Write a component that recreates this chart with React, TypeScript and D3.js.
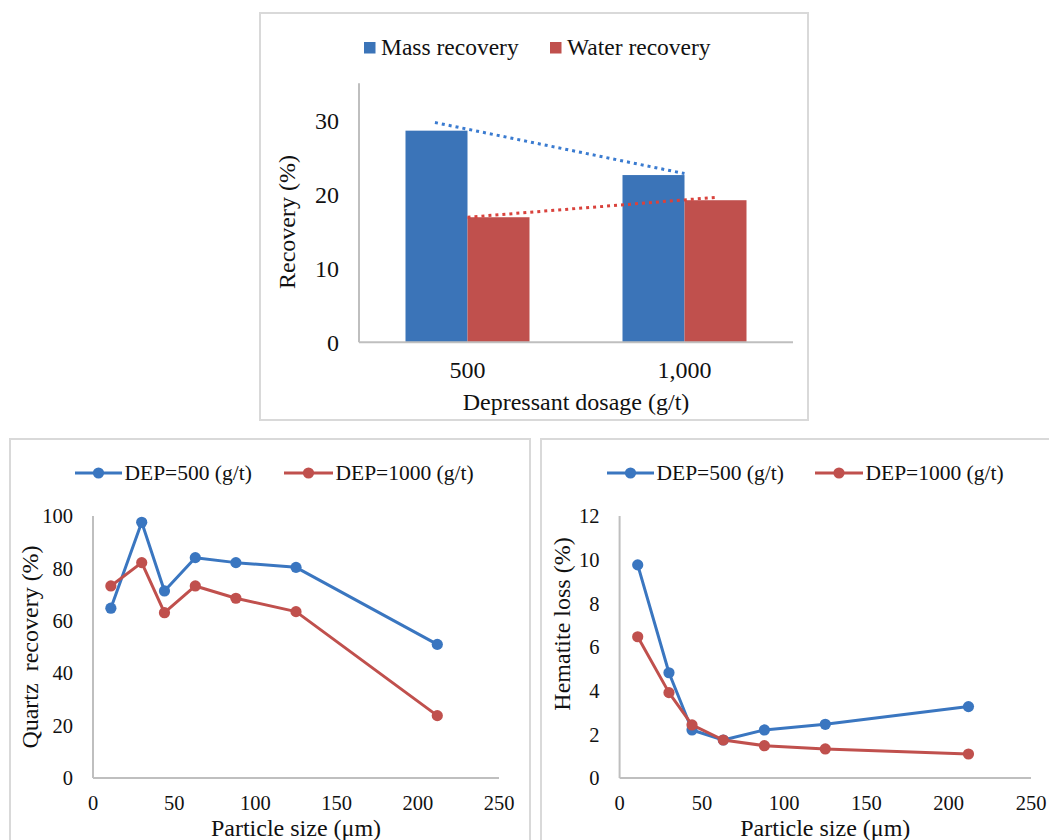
import { useEffect, useRef } from 'react'
import * as d3 from 'd3'

// top chart: recovery vs depressant dosage
const dosageLabels = ['500', '1,000']
const massRecovery = [28.6, 22.6]
const waterRecovery = [16.9, 19.2]
// dotted trend lines (x as category index, as Excel drew them)
const massTrendIdx = [-0.15, 1.0]
const massTrend = [29.7, 22.8]
const waterTrendIdx = [0, 1.15]
const waterTrend = [16.9, 19.6]
const recoveryTicks = [0, 10, 20, 30]

// bottom charts: particle size
const particleSize = [11, 30, 44, 63, 88, 125, 212]
const quartz500 = [64.8, 97.6, 71.4, 84.1, 82.2, 80.4, 51.0]
const quartz1000 = [73.3, 82.2, 63.1, 73.3, 68.6, 63.5, 23.8]
const hematite500 = [9.76, 4.82, 2.2, 1.74, 2.2, 2.46, 3.27]
const hematite1000 = [6.47, 3.91, 2.43, 1.74, 1.48, 1.33, 1.1]
const sizeTicks = [0, 50, 100, 150, 200, 250]
const quartzTicks = [0, 20, 40, 60, 80, 100]
const hematiteTicks = [0, 2, 4, 6, 8, 10, 12]

const BLUE = '#3b74b8'
const LINE_BLUE = '#3a76c0'
const RED = '#c0504d'
const AXIS = '#bfbfbf'
const BORDER = '#d9d9d9'
const TEXT = '#111'
const FONT = '"Liberation Serif", "Times New Roman", serif'

type Sel = d3.Selection<SVGSVGElement, unknown, null, undefined>

function drawLinePanel(svg: Sel, o: any) {
  const g = svg.append('g')

  g.append('rect')
    .attr('x', o.box[0]).attr('y', o.box[1])
    .attr('width', o.box[2]).attr('height', o.box[3])
    .attr('fill', '#fff').attr('stroke', BORDER).attr('stroke-width', 2)

  const x = d3.scaleLinear().domain([0, 250]).range(o.xRange)
  const y = d3.scaleLinear().domain([0, o.yMax]).range(o.yRange)

  // axis lines
  g.append('line')
    .attr('x1', x(0)).attr('x2', x(0))
    .attr('y1', y(0)).attr('y2', y(o.yMax))
    .attr('stroke', AXIS).attr('stroke-width', 2)
  g.append('line')
    .attr('x1', x(0)).attr('x2', x(250))
    .attr('y1', y(0)).attr('y2', y(0))
    .attr('stroke', AXIS).attr('stroke-width', 2)

  // tick labels
  g.selectAll('.ytick')
    .data(o.yTicks)
    .join('text')
    .attr('x', x(0) - 20)
    .attr('y', (d: any) => y(d))
    .attr('dy', '0.35em')
    .attr('text-anchor', 'end')
    .attr('font-size', 20.5)
    .attr('font-family', FONT)
    .attr('fill', TEXT)
    .text((d: any) => d)

  g.selectAll('.xtick')
    .data(sizeTicks)
    .join('text')
    .attr('x', d => x(d))
    .attr('y', 810)
    .attr('text-anchor', 'middle')
    .attr('font-size', 20.5)
    .attr('font-family', FONT)
    .attr('fill', TEXT)
    .text(d => d)

  // titles
  g.append('text')
    .attr('x', (o.xRange[0] + o.xRange[1]) / 2)
    .attr('y', 836)
    .attr('text-anchor', 'middle')
    .attr('font-size', 24)
    .attr('font-family', FONT)
    .attr('fill', TEXT)
    .text('Particle size (μm)')

  g.append('text')
    .attr('transform', `translate(${o.yTitleX},${o.yTitleY}) rotate(-90)`)
    .attr('text-anchor', 'middle')
    .attr('dy', '0.35em')
    .attr('font-size', 24)
    .attr('font-family', FONT)
    .attr('fill', TEXT)
    .style('white-space', 'pre')
    .text(o.yTitle)

  const line = d3.line<number>()
    .x((d, i) => x(particleSize[i]))
    .y(d => y(d))

  const series = [
    { values: o.s500, color: LINE_BLUE },
    { values: o.s1000, color: RED }
  ]
  series.forEach(s => {
    g.append('path')
      .attr('d', line(s.values))
      .attr('fill', 'none')
      .attr('stroke', s.color)
      .attr('stroke-width', 3)
      .attr('stroke-linejoin', 'round')
    g.selectAll(null)
      .data(s.values)
      .join('circle')
      .attr('cx', (d, i) => x(particleSize[i]))
      .attr('cy', d => y(d))
      .attr('r', 5.6)
      .attr('fill', s.color)
  })

  // legend
  const ly = 473
  const items = [
    { color: LINE_BLUE, line: o.legend.blue, label: 'DEP=500 (g/t)' },
    { color: RED, line: o.legend.red, label: 'DEP=1000 (g/t)' }
  ]
  items.forEach(it => {
    g.append('line')
      .attr('x1', it.line[0]).attr('x2', it.line[1])
      .attr('y1', ly).attr('y2', ly)
      .attr('stroke', it.color).attr('stroke-width', 3)
    g.append('circle')
      .attr('cx', (it.line[0] + it.line[1]) / 2).attr('cy', ly)
      .attr('r', 5.6).attr('fill', it.color)
    g.append('text')
      .attr('x', it.line[1] + 2.5)
      .attr('y', 480)
      .attr('font-size', 21.5)
      .attr('font-family', FONT)
      .attr('fill', TEXT)
      .text(it.label)
  })
}

export default function App() {
  const svgRef = useRef<SVGSVGElement>(null)

  useEffect(() => {
    const width = 1049
    const height = 840
    const svg = d3.select(svgRef.current as SVGSVGElement)
      .attr('width', width)
      .attr('height', height)
    svg.selectAll('*').remove()

    // ---- top chart ----
    const top = svg.append('g')
    top.append('rect')
      .attr('x', 260).attr('y', 13).attr('width', 548).attr('height', 407)
      .attr('fill', '#fff').attr('stroke', BORDER).attr('stroke-width', 2)

    const x = d3.scaleBand().domain(dosageLabels).range([359, 793])
    const bw = x.bandwidth()
    const barW = bw / 3.5
    const inner = d3.scaleBand().domain(['mass', 'water']).range([0, 2 * barW])
    const y = d3.scaleLinear().domain([0, 35]).range([342.3, 83.3])

    top.append('line')
      .attr('x1', 359).attr('x2', 359)
      .attr('y1', y(0)).attr('y2', y(35))
      .attr('stroke', AXIS).attr('stroke-width', 2)

    const bars = [
      { key: 'mass', values: massRecovery, color: BLUE },
      { key: 'water', values: waterRecovery, color: RED }
    ]
    bars.forEach(s => {
      top.selectAll(null)
        .data(s.values)
        .join('rect')
        .attr('x', (d, i) => (x(dosageLabels[i]) as number) + bw / 2 - barW + (inner(s.key) as number))
        .attr('y', d => y(d))
        .attr('width', barW)
        .attr('height', d => y(0) - y(d))
        .attr('fill', s.color)
    })

    top.append('line')
      .attr('x1', 359).attr('x2', 793)
      .attr('y1', y(0)).attr('y2', y(0))
      .attr('stroke', AXIS).attr('stroke-width', 2)

    // trend lines
    const idx = d3.scaleLinear().domain([0, 1])
      .range([(x(dosageLabels[0]) as number) + bw / 2, (x(dosageLabels[1]) as number) + bw / 2])
    const trends = [
      { xs: massTrendIdx, ys: massTrend, color: '#3a7bd0' },
      { xs: waterTrendIdx, ys: waterTrend, color: '#d9423c' }
    ]
    trends.forEach(t => {
      top.append('line')
        .attr('x1', idx(t.xs[0])).attr('y1', y(t.ys[0]))
        .attr('x2', idx(t.xs[1])).attr('y2', y(t.ys[1]))
        .attr('stroke', t.color)
        .attr('stroke-width', 3)
        .attr('stroke-dasharray', '3 4')
    })

    top.selectAll('.ytick')
      .data(recoveryTicks)
      .join('text')
      .attr('x', 339)
      .attr('y', d => y(d))
      .attr('dy', '0.35em')
      .attr('text-anchor', 'end')
      .attr('font-size', 24)
      .attr('font-family', FONT)
      .attr('fill', TEXT)
      .text(d => d)

    top.selectAll('.xtick')
      .data(dosageLabels)
      .join('text')
      .attr('x', d => (x(d) as number) + bw / 2)
      .attr('y', 378)
      .attr('text-anchor', 'middle')
      .attr('font-size', 24)
      .attr('font-family', FONT)
      .attr('fill', TEXT)
      .text(d => d)

    top.append('text')
      .attr('x', 576)
      .attr('y', 410)
      .attr('text-anchor', 'middle')
      .attr('font-size', 24)
      .attr('font-family', FONT)
      .attr('fill', TEXT)
      .text('Depressant dosage (g/t)')

    top.append('text')
      .attr('transform', 'translate(287,222) rotate(-90)')
      .attr('text-anchor', 'middle')
      .attr('dy', '0.35em')
      .attr('font-size', 24)
      .attr('font-family', FONT)
      .attr('fill', TEXT)
      .text('Recovery (%)')

    // legend
    const legendItems = [
      { label: 'Mass recovery', color: BLUE, x: 364 },
      { label: 'Water recovery', color: RED, x: 550 }
    ]
    legendItems.forEach(it => {
      top.append('rect')
        .attr('x', it.x).attr('y', 42)
        .attr('width', 11.5).attr('height', 11.5)
        .attr('fill', it.color)
    })
    legendItems.forEach(it => {
      top.append('text')
        .attr('x', it.x + 17)
        .attr('y', 54.5)
        .attr('font-size', 23.5)
        .attr('font-family', FONT)
        .attr('fill', TEXT)
        .text(it.label)
    })

    // ---- bottom charts ----
    drawLinePanel(svg, {
      box: [10, 439, 520, 420],
      xRange: [93, 499],
      yRange: [778, 516],
      yMax: 100,
      yTicks: quartzTicks,
      yTitle: 'Quartz  recovery (%)',
      yTitleX: 30,
      yTitleY: 647,
      s500: quartz500,
      s1000: quartz1000,
      legend: { blue: [75, 122], red: [284, 333] }
    })

    drawLinePanel(svg, {
      box: [541, 439, 520, 420],
      xRange: [619.6, 1031],
      yRange: [778, 516],
      yMax: 12,
      yTicks: hematiteTicks,
      yTitle: 'Hematite loss (%)',
      yTitleX: 562,
      yTitleY: 624,
      s500: hematite500,
      s1000: hematite1000,
      legend: { blue: [607, 654], red: [815, 863] }
    })
  }, [])

  return (
    <div>
      <style>{'body{margin:0;background:#fff}'}</style>
      <svg ref={svgRef} style={{ display: 'block' }}></svg>
    </div>
  )
}
